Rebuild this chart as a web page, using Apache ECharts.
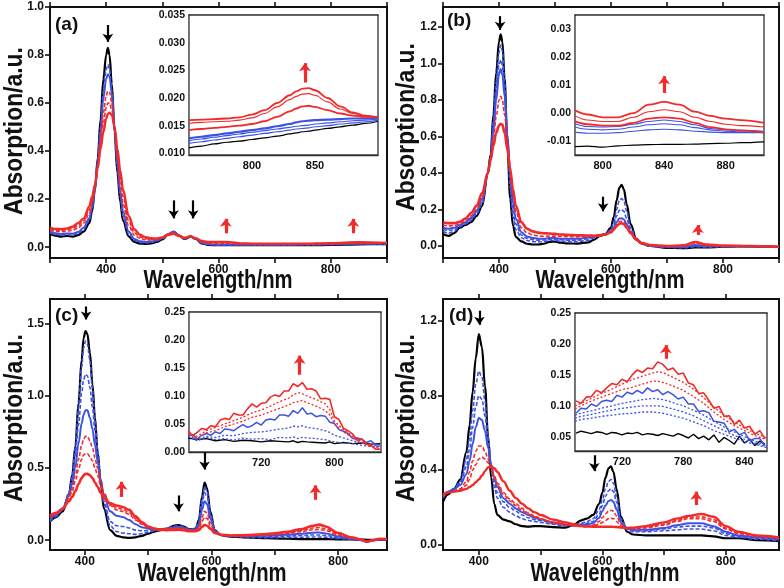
<!DOCTYPE html>
<html><head><meta charset="utf-8">
<script src="https://cdn.jsdelivr.net/npm/echarts@6/dist/echarts.min.js"></script>
<style>html,body{margin:0;padding:0;background:#fff}#c{width:784px;height:588px}</style>
</head><body><div id="c"></div>
<script>
// ---------- Panel (a) ----------
const WA = [300,310,320,330,340,350,360,370,375,380,385,390,395,400,403,406,410,415,420,425,430,440,450,460,470,480,490,500,510,520,530,540,550,560,570,580,600,620,640,660,700,750,800,850,900];
const aBlack = [.055,.048,.044,.047,.044,.05,.065,.10,.15,.24,.37,.53,.70,.80,.83,.80,.68,.48,.31,.19,.11,.045,.022,.015,.014,.016,.022,.032,.052,.064,.048,.034,.044,.034,.016,.01,.008,.008,.008,.008,.008,.008,.01,.012,.013];
const aBlueD = [.06,.053,.05,.052,.05,.057,.075,.11,.16,.24,.36,.50,.65,.74,.76,.74,.65,.49,.33,.21,.13,.055,.028,.02,.018,.02,.026,.035,.053,.064,.048,.035,.044,.034,.017,.011,.009,.009,.009,.009,.009,.01,.011,.013,.014];
const aBlue = [.065,.058,.055,.057,.056,.063,.082,.12,.165,.24,.35,.48,.62,.70,.72,.71,.64,.50,.35,.23,.15,.065,.034,.025,.022,.023,.028,.037,.054,.065,.049,.036,.045,.035,.018,.012,.01,.01,.01,.01,.01,.011,.012,.014,.015];
const aRedD1 = [.072,.066,.064,.067,.07,.08,.10,.14,.18,.25,.34,.45,.56,.63,.65,.645,.60,.50,.37,.26,.18,.09,.05,.037,.031,.03,.032,.039,.054,.062,.047,.037,.045,.035,.021,.016,.016,.016,.013,.012,.012,.013,.014,.017,.016];
const aRedD2 = [.076,.07,.07,.073,.078,.09,.11,.155,.195,.255,.335,.43,.52,.58,.60,.60,.57,.50,.39,.29,.21,.11,.06,.043,.036,.033,.034,.04,.053,.058,.046,.038,.045,.035,.023,.019,.019,.018,.014,.014,.014,.014,.016,.019,.017];
const aRed = [.082,.076,.075,.078,.085,.10,.12,.17,.21,.26,.33,.41,.48,.535,.555,.56,.55,.50,.41,.32,.24,.13,.075,.052,.042,.037,.036,.041,.052,.056,.046,.039,.046,.037,.026,.022,.022,.021,.016,.015,.015,.015,.017,.021,.018];
// inset (a)
const IWA = [750,760,770,780,790,800,810,820,830,835,840,845,850,860,870,880,890,900];
const iaBlack = [.011,.0113,.0117,.0120,.0122,.0125,.0128,.0131,.0135,.0137,.0139,.0140,.0142,.0145,.0148,.0151,.0154,.0158];
const iaBlue1 = [.0118,.0121,.0124,.0127,.0130,.0133,.0136,.0139,.0142,.0144,.0145,.0146,.0148,.0150,.0153,.0155,.0157,.016];
const iaBlue2 = [.0123,.0126,.0129,.0132,.0135,.0138,.0141,.0144,.0147,.0149,.015,.0151,.0153,.0155,.0157,.0159,.016,.0162];
const iaBlue = [.0127,.013,.0133,.0136,.0139,.0142,.0145,.0149,.0153,.0156,.0158,.0159,.016,.0161,.0162,.0163,.0163,.0164];
const iaRed1 = [.0142,.0144,.0146,.0148,.015,.0153,.0158,.0166,.0176,.0181,.0185,.0186,.0184,.0178,.0172,.0168,.0166,.0166];
const iaRed2 = [.0154,.0156,.0157,.0158,.0160,.0164,.0172,.0184,.0197,.0203,.0207,.0208,.0205,.0193,.0180,.0172,.0167,.0165];
const iaRed3 = [.016,.0161,.0162,.0163,.0165,.0170,.0178,.0191,.0205,.0212,.0217,.0218,.0214,.0200,.0185,.0174,.0168,.0165];

// ---------- Panel (b) ----------
const WB = [300,310,320,330,340,350,360,370,380,385,390,395,400,403,406,410,415,420,425,430,440,450,460,470,480,490,500,510,520,540,560,570,580,590,600,605,610,615,619,623,628,635,645,655,670,700,730,750,770,800,850,900];
const bBlack = [.065,.055,.07,.10,.115,.13,.165,.22,.40,.50,.72,.95,1.12,1.16,1.12,.92,.55,.26,.11,.05,.025,.012,.008,.008,.012,.022,.024,.018,.014,.013,.02,.035,.055,.065,.10,.16,.25,.32,.335,.31,.23,.12,.04,.012,0,-.01,-.012,-.008,-.008,-.004,-.002,-.005];
const bBlueD1 = [.08,.07,.08,.105,.12,.14,.175,.23,.40,.49,.69,.90,1.06,1.10,1.07,.90,.58,.32,.16,.09,.045,.03,.024,.022,.024,.03,.03,.026,.024,.024,.032,.045,.058,.065,.09,.13,.20,.25,.26,.245,.19,.10,.04,.014,0,-.008,-.01,-.004,-.006,-.003,-.002,-.005];
const bBlueD2 = [.09,.085,.09,.11,.125,.15,.185,.245,.40,.48,.66,.85,.99,1.02,.99,.85,.60,.37,.21,.12,.06,.042,.035,.032,.033,.037,.037,.034,.032,.032,.04,.05,.06,.066,.085,.115,.165,.195,.20,.19,.15,.085,.036,.014,0,-.006,-.008,0,-.004,-.002,-.002,-.005];
const bBlue = [.10,.095,.10,.115,.13,.155,.19,.26,.40,.47,.63,.80,.94,.97,.94,.82,.61,.40,.24,.15,.075,.052,.044,.04,.04,.043,.043,.04,.04,.04,.046,.053,.06,.065,.08,.10,.13,.15,.152,.145,.12,.075,.033,.013,0,-.005,-.006,.005,-.002,-.002,-.002,-.005];
const bRedD = [.115,.11,.112,.122,.14,.165,.20,.27,.40,.47,.58,.71,.80,.82,.80,.72,.58,.43,.29,.19,.10,.072,.06,.055,.053,.054,.054,.052,.052,.05,.052,.055,.058,.063,.078,.095,.118,.132,.135,.13,.11,.072,.034,.014,.003,-.002,0,.015,.003,0,-.001,-.005];
const bRed = [.13,.125,.125,.132,.15,.18,.22,.29,.40,.47,.55,.62,.66,.67,.665,.62,.53,.42,.31,.22,.13,.095,.08,.073,.07,.068,.066,.063,.061,.059,.057,.056,.057,.062,.075,.09,.11,.122,.125,.12,.10,.07,.036,.016,.005,0,.003,.022,.008,.002,0,-.004];
// inset (b)
const IWB = [782,790,800,810,820,830,840,850,860,870,880,890,905];
const ibBlack = [-.012,-.0118,-.0122,-.0117,-.0115,-.0113,-.0112,-.0112,-.0111,-.0109,-.0108,-.0106,-.0103];
const ibBlue3 = [-.0068,-.0072,-.0072,-.007,-.0065,-.006,-.0058,-.006,-.0065,-.0068,-.007,-.007,-.007];
const ibBlue2 = [-.005,-.0058,-.006,-.0058,-.005,-.0042,-.0038,-.0042,-.0052,-.006,-.0065,-.0067,-.0068];
const ibBlue1 = [-.0038,-.0048,-.005,-.0048,-.004,-.003,-.0025,-.003,-.0042,-.0055,-.006,-.0062,-.0065];
const ibRed1 = [-.003,-.004,-.0045,-.0045,-.0035,-.002,-.0015,-.002,-.0035,-.005,-.0058,-.0062,-.007];
const ibRed2 = [-.001,-.0025,-.003,-.003,-.0015,.0005,.0012,.0005,-.0015,-.003,-.004,-.0045,-.005];
const ibRed3 = [.001,-.0005,-.0015,-.0015,0,.003,.004,.003,.0005,-.001,-.002,-.0025,-.0035];

// ---------- Panel (c) ----------
const WC = [345,355,365,375,380,385,390,395,398,401,404,408,412,416,420,425,430,440,450,460,470,480,490,500,510,520,530,540,548,556,565,575,580,585,589,593,598,605,615,630,650,680,700,720,740,760,770,780,800,820,835,845,855,865,877];
const cBlack = [.13,.16,.20,.32,.45,.65,.95,1.25,1.40,1.45,1.43,1.30,1.08,.85,.62,.40,.22,.07,.03,.02,.016,.02,.03,.045,.06,.07,.08,.10,.105,.095,.075,.08,.14,.30,.40,.36,.20,.07,.035,.025,.02,.015,.012,.01,.008,.008,.008,.008,.006,.005,.004,.003,.003,.003,.003];
const cBlueD1 = [.13,.165,.21,.33,.45,.64,.92,1.20,1.33,1.38,1.36,1.25,1.05,.84,.63,.42,.25,.10,.06,.05,.045,.04,.045,.055,.065,.072,.08,.096,.10,.092,.074,.08,.13,.28,.37,.34,.19,.07,.035,.026,.022,.018,.018,.019,.02,.022,.022,.02,.012,.006,0,-.01,0,.005,.005];
const cBlueD2 = [.14,.17,.215,.32,.42,.58,.80,1.02,1.11,1.15,1.14,1.06,.92,.76,.60,.42,.27,.13,.10,.095,.085,.07,.065,.066,.07,.074,.08,.092,.096,.088,.072,.077,.12,.25,.33,.30,.17,.066,.036,.028,.025,.024,.025,.028,.032,.036,.036,.032,.018,.008,0,-.012,-.002,.005,.005];
const cBlue = [.15,.175,.22,.31,.39,.51,.67,.81,.87,.90,.90,.85,.77,.66,.55,.42,.31,.20,.17,.16,.14,.11,.09,.08,.076,.077,.08,.088,.09,.084,.07,.074,.105,.21,.27,.25,.15,.063,.037,.03,.028,.03,.033,.038,.045,.052,.053,.047,.026,.012,.002,-.012,-.003,.006,.005];
const cRedD1 = [.16,.18,.22,.30,.36,.45,.56,.66,.70,.72,.72,.69,.64,.57,.50,.41,.33,.24,.21,.20,.18,.14,.11,.09,.08,.078,.078,.083,.084,.079,.068,.07,.09,.16,.20,.19,.12,.058,.037,.031,.031,.035,.04,.048,.058,.072,.074,.066,.036,.015,.004,-.01,-.002,.007,.006];
const cRedD2 = [.165,.185,.22,.29,.34,.41,.49,.56,.59,.60,.60,.58,.55,.50,.45,.38,.32,.25,.225,.215,.19,.15,.115,.092,.08,.076,.075,.078,.079,.075,.066,.067,.08,.13,.16,.15,.10,.055,.037,.032,.032,.037,.044,.053,.066,.085,.088,.078,.042,.017,.005,-.01,-.001,.008,.007];
const cRed = [.17,.19,.22,.27,.30,.34,.39,.43,.45,.46,.46,.45,.43,.40,.37,.33,.29,.255,.24,.23,.21,.165,.125,.095,.08,.073,.07,.071,.072,.069,.062,.063,.07,.092,.105,.10,.08,.05,.037,.033,.034,.04,.048,.058,.075,.10,.108,.095,.05,.02,.006,-.008,0,.01,.008];
// inset (c)
const IWC = [640,650,660,670,680,690,700,710,720,730,740,750,755,760,765,770,780,790,795,800,810,820,830,840,850];
const IWC5 = [640,645,650,655,660,665,670,675,680,685,690,695,700,705,710,715,720,725,730,735,740,745,750,755,760,765,770,775,780,785,790,795,800,805,810,815,820,825,830,835,840,845,850];
const icBlack = [.025,.022,.024,.02,.022,.019,.021,.02,.018,.02,.019,.018,.02,.017,.019,.018,.017,.016,.018,.015,.017,.015,.016,.014,.015];
const icBlueD1 = [.028,.02,.026,.022,.024,.021,.025,.023,.024,.022,.026,.025,.027,.024,.026,.025,.024,.022,.02,.018,.016,.015,.012,.01,.01];
const icBlueD2 = [.03,.022,.028,.026,.03,.029,.033,.035,.036,.038,.041,.043,.046,.045,.047,.044,.042,.038,.035,.03,.025,.02,.016,.012,.01];
const icBlue = [.028,.031,.023,.030,.033,.030,.036,.033,.041,.040,.038,.044,.049,.044,.047,.053,.048,.057,.059,.057,.066,.066,.064,.074,.069,.079,.068,.069,.063,.065,.064,.053,.051,.040,.037,.033,.024,.025,.023,.017,.020,.013,.013];
const icRedD1 = [.032,.025,.034,.038,.045,.05,.055,.062,.066,.072,.078,.084,.088,.09,.092,.088,.082,.074,.066,.05,.036,.025,.016,.01,.008];
const icRedD2 = [.033,.028,.038,.044,.05,.056,.062,.07,.075,.082,.09,.096,.102,.106,.104,.10,.094,.086,.076,.055,.04,.028,.018,.01,.006];
const icRed = [.038,.029,.035,.042,.040,.047,.045,.057,.060,.058,.069,.066,.066,.077,.086,.080,.087,.088,.098,.102,.099,.109,.109,.122,.117,.124,.112,.113,.109,.095,.096,.094,.063,.058,.042,.038,.032,.021,.023,.014,.012,.005,.005];

// ---------- Panel (d) ----------
const WD = [342,350,360,370,380,385,390,395,400,405,410,415,420,425,430,440,450,460,470,480,490,500,520,540,555,565,575,585,595,600,605,610,614,618,623,630,640,650,670,700,720,740,760,780,800,820,850,886];
const dBlack = [.23,.27,.30,.35,.50,.64,.82,1.0,1.13,1.06,.85,.58,.36,.22,.16,.135,.125,.11,.10,.097,.10,.10,.095,.092,.11,.13,.14,.16,.22,.28,.36,.41,.42,.39,.30,.15,.07,.055,.05,.05,.05,.05,.05,.045,.035,.035,.025,.02];
const dBlueD1 = [.25,.28,.30,.34,.46,.57,.72,.86,.93,.90,.77,.58,.42,.31,.25,.20,.175,.155,.14,.13,.125,.12,.11,.10,.105,.115,.125,.14,.19,.24,.30,.34,.35,.33,.26,.14,.08,.07,.07,.075,.08,.085,.085,.075,.05,.04,.03,.02];
const dBlueD2 = [.26,.285,.30,.33,.42,.51,.63,.74,.80,.78,.69,.55,.43,.34,.28,.23,.20,.18,.16,.145,.135,.13,.115,.105,.105,.11,.115,.125,.165,.21,.26,.29,.30,.285,.23,.13,.085,.075,.075,.085,.095,.10,.10,.09,.06,.045,.035,.025];
const dBlue = [.26,.285,.30,.32,.38,.45,.54,.63,.68,.67,.61,.52,.43,.36,.31,.25,.22,.195,.175,.16,.145,.135,.12,.108,.103,.105,.11,.115,.145,.18,.21,.235,.24,.23,.19,.12,.09,.08,.08,.09,.105,.115,.115,.10,.07,.05,.04,.03];
const dRedD1 = [.26,.28,.29,.30,.34,.39,.45,.50,.53,.53,.50,.46,.41,.36,.32,.27,.235,.21,.185,.165,.15,.138,.12,.11,.102,.10,.10,.105,.125,.145,.165,.18,.185,.18,.155,.11,.09,.085,.09,.105,.125,.14,.14,.125,.085,.06,.045,.035];
const dRedD2 = [.26,.28,.29,.295,.32,.35,.40,.43,.46,.47,.46,.44,.41,.37,.33,.28,.245,.22,.195,.17,.155,.14,.12,.108,.10,.098,.097,.10,.11,.12,.13,.14,.142,.14,.125,.10,.09,.088,.095,.11,.13,.148,.15,.135,.09,.065,.048,.037];
const dRed = [.27,.28,.285,.29,.30,.31,.32,.335,.35,.37,.395,.415,.42,.41,.39,.34,.29,.25,.22,.195,.175,.16,.135,.12,.11,.10,.098,.097,.097,.097,.097,.097,.097,.096,.095,.093,.09,.092,.10,.12,.14,.155,.165,.15,.10,.07,.05,.04];
// inset (d)
const IWD = [674,680,690,700,710,720,730,740,750,755,760,765,770,780,790,800,810,820,830,840,850,862];
const IWD5 = [675,680,685,690,695,700,705,710,715,720,725,730,735,740,745,750,755,760,765,770,775,780,785,790,795,800,805,810,815,820,825,830,835,840,845,850,855,860];
const idBlack = [.056,.059,.057,.055,.058,.057,.054,.057,.056,.053,.056,.055,.057,.053,.055,.054,.052,.055,.053,.051,.055,.052,.048,.054,.047,.051,.045,.053,.041,.049,.044,.038,.051,.04,.046,.036,.043,.038];
const idBlueD1 = [.075,.078,.08,.083,.085,.087,.088,.09,.09,.089,.088,.086,.084,.08,.074,.068,.06,.054,.048,.042,.038,.032];
const idBlueD2 = [.08,.083,.086,.09,.093,.096,.098,.10,.10,.10,.099,.097,.095,.09,.084,.076,.068,.06,.052,.046,.04,.034];
const idBlueD3 = [.085,.088,.092,.096,.10,.104,.107,.11,.112,.111,.11,.108,.105,.10,.093,.085,.075,.066,.058,.05,.043,.036];
const idBlue = [.088,.096,.095,.103,.099,.107,.109,.107,.117,.114,.122,.119,.125,.120,.129,.123,.126,.118,.123,.118,.111,.114,.103,.103,.091,.092,.089,.075,.074,.072,.058,.062,.053,.057,.044,.047,.047,.035];
const idRedD1 = [.095,.10,.108,.114,.12,.126,.13,.135,.14,.14,.138,.135,.132,.125,.115,.104,.09,.078,.068,.06,.052,.045];
const idRedD2 = [.10,.104,.112,.12,.127,.135,.142,.148,.153,.155,.154,.15,.146,.138,.127,.113,.098,.085,.074,.064,.056,.048];
const idRed = [.108,.104,.114,.115,.125,.121,.129,.136,.134,.143,.139,.150,.158,.154,.161,.160,.171,.167,.158,.161,.151,.153,.137,.134,.120,.121,.109,.096,.099,.083,.084,.070,.077,.064,.067,.054,.060,.047];

// ---------- Tick labels ----------
const mainXLabels = [400,600,800];
const abXTicks = [300,400,500,600,700,800,900];
const cdXTicks = [400,500,600,700,800];
const aYLabels = [0,0.2,0.4,0.6,0.8,1.0];
const bYLabels = [0,0.2,0.4,0.6,0.8,1.0,1.2];
const cYLabels = [0,0.5,1.0,1.5];
const dYLabels = [0,0.4,0.8,1.2];
const iaXLabels = [800,850], iaXTicks = [775,800,825,850,875];
const iaYLabels = [0.010,0.015,0.020,0.025,0.030,0.035];
const ibXLabels = [800,840,880], ibXTicks = [800,820,840,860,880,900];
const ibYLabels = [-0.01,0,0.01,0.02,0.03];
const icXLabels = [720,800], icXTicks = [680,720,760,800,840];
const icYLabels = [0,0.05,0.10,0.15,0.20,0.25];
const idXLabels = [720,780,840], idXTicks = [690,720,750,780,810,840];
const idYLabels = [0.05,0.10,0.15,0.20,0.25];

// ---------- Arrows [x, yStart, yEnd, colour] ----------
const arrowsA = [[403,.925,.855,'k'],[520,.195,.12,'k'],[555,.195,.12,'k'],[613,.058,.118,'r'],[840,.058,.118,'r']];
const arrowsIA = [[842,.0228,.0263,'r']];
const arrowsB = [[402,1.26,1.185,'k'],[586,.27,.19,'k'],[755,.06,.115,'r']];
const arrowsIB = [[840,.0072,.0132,'r']];
const arrowsC = [[402,1.62,1.53,'k'],[458,.30,.405,'r'],[548,.31,.2,'k'],[589,.61,.49,'k'],[764,.28,.38,'r']];
const arrowsIC = [[762,.138,.172,'r']];
const arrowsD = [[401,1.255,1.18,'k'],[587,.48,.395,'k'],[752,.213,.285,'r']];
const arrowsID = [[763,.176,.198,'r']];

// ---------- build ----------
const BLK = '#000', BLU = '#3c52e4', RED = '#f22a2a';
const FONT = '"Liberation Sans", Arial, sans-serif';
const grids = [
  {left:50, top:7, width:337, height:251},
  {left:443, top:7, width:336, height:251},
  {left:50, top:299, width:337, height:251},
  {left:443, top:299, width:336, height:251},
  {left:189, top:15, width:189, height:140},
  {left:575, top:15, width:189, height:140},
  {left:189, top:312, width:192, height:140},
  {left:575, top:313, width:192, height:138}
].map((g,i)=>Object.assign(g,{show:true, containLabel:false, outerBoundsMode:'none',
   backgroundColor:'#fff', borderColor: i<4?'#111':'#333', borderWidth: i<4?2:1.3, z: i<4?0:5}));

const xSpec = [
  [300,900,abXTicks,mainXLabels],[300,900,abXTicks,mainXLabels],
  [345,877,cdXTicks,mainXLabels],[342,886,cdXTicks,mainXLabels],
  [750,900,iaXTicks,iaXLabels],[782,905,ibXTicks,ibXLabels],
  [641,851,icXTicks,icXLabels],[674,862,idXTicks,idXLabels]];
const ySpec = [
  [-0.045,1.0,aYLabels,1],[-0.066,1.31,bYLabels,1],[-0.068,1.672,cYLabels,1],[-0.028,1.318,dYLabels,1],
  [0.0097,0.035,iaYLabels,3],[-0.015,0.0351,ibYLabels,2],[0,0.25,icYLabels,2],[0.027,0.25,idYLabels,2]];

const xAxis = [], yAxis = [];
function axLine(main){ return {show:true, onZero:false, lineStyle:{color: main?'#111':'#333', width: main?2:1.3}}; }
function axTick(main, vals){ return {show:true, customValues:vals, inside:!main, length: main?5:3, lineStyle:{color:'#111', width: main?1.6:1}}; }
xSpec.forEach((s,g)=>{
  const main = g<4;
  xAxis.push({type:'value', gridIndex:g, min:s[0], max:s[1], position:'bottom', splitLine:{show:false},
    axisLine:axLine(main), axisTick:axTick(main,s[2]),
    axisLabel:{customValues:s[3], formatter:v=>String(Math.round(v)), color:'#111', fontFamily:FONT, fontWeight:'bold',
      fontSize: main?12:11, margin: main?6:5}});
});
xSpec.forEach((s,g)=>{
  const main = g<4;
  xAxis.push({type:'value', gridIndex:g, min:s[0], max:s[1], position:'top', splitLine:{show:false},
    axisLine:axLine(main), axisTick:axTick(main,s[2]), axisLabel:{show:false}});
});
ySpec.forEach((s,g)=>{
  const main = g<4;
  yAxis.push({type:'value', gridIndex:g, min:s[0], max:s[1], splitLine:{show:false},
    axisLine:axLine(main), axisTick:axTick(main,s[2]),
    axisLabel:{customValues:s[2], formatter:v=>v.toFixed(s[3]), color:'#111', fontFamily:FONT, fontWeight:'bold',
      fontSize: main?12:10.5, margin: main?6:4}});
});

function line(g, xs, ys, color, width, type, smooth){
  return {type:'line', xAxisIndex:g, yAxisIndex:g, data: xs.map((x,i)=>[x,ys[i]]),
    symbol:'none', showSymbol:false, smooth: smooth===undefined?0.35:smooth, smoothMonotone:'x',
    lineStyle:{color, width, type}, silent:true, animation:false, z: g<4?2:7};
}
function arrows(g, arr){
  return {type:'line', xAxisIndex:g, yAxisIndex:g, data:[], symbol:'none', silent:true, animation:false, z:9,
    markLine:{silent:true, animation:false, symbol:['none','arrow'], label:{show:false},
      data: arr.map(a=>{
        const red = a[3]==='r';
        const st = {color: red?RED:BLK, width: red?3.2:2.2, type:'solid'};
        return [{coord:[a[0],a[1]], lineStyle:st, symbol:'none'},
                {coord:[a[0],a[2]], lineStyle:st, symbol:'arrow', symbolSize: red?[9,8]:[8,8]}];
      })}};
}
const DASH = [4,2], DOT = [2,2];
const series = [
  line(0,WA,aBlack,BLK,2.2,'solid'), line(0,WA,aBlueD,BLU,1.6,DASH), line(0,WA,aBlue,BLU,2,'solid'),
  line(0,WA,aRedD1,RED,1.6,DASH), line(0,WA,aRedD2,RED,1.6,DASH), line(0,WA,aRed,RED,2.4,'solid'),
  line(1,WB,bBlack,BLK,2.2,'solid'), line(1,WB,bBlueD1,BLU,1.6,DASH), line(1,WB,bBlueD2,BLU,1.6,DASH),
  line(1,WB,bBlue,BLU,2,'solid'), line(1,WB,bRedD,RED,1.6,DASH), line(1,WB,bRed,RED,2.6,'solid'),
  line(2,WC,cBlack,BLK,2.2,'solid'), line(2,WC,cBlueD1,BLU,1.6,DASH), line(2,WC,cBlueD2,BLU,1.6,DASH),
  line(2,WC,cBlue,BLU,2,'solid'), line(2,WC,cRedD1,RED,1.6,DASH), line(2,WC,cRedD2,RED,1.6,DASH),
  line(2,WC,cRed,RED,2.6,'solid'),
  line(3,WD,dBlack,BLK,2.2,'solid'), line(3,WD,dBlueD1,BLU,1.6,DASH), line(3,WD,dBlueD2,BLU,1.6,DASH),
  line(3,WD,dBlue,BLU,2,'solid'), line(3,WD,dRedD1,RED,1.6,DASH), line(3,WD,dRedD2,RED,1.6,DASH),
  line(3,WD,dRed,RED,2.4,'solid'),
  line(4,IWA,iaBlack,BLK,1.2,'solid'), line(4,IWA,iaBlue1,BLU,1.1,'solid'), line(4,IWA,iaBlue2,BLU,1.1,'solid'),
  line(4,IWA,iaBlue,BLU,2.2,'solid'), line(4,IWA,iaRed1,RED,1.8,'solid'), line(4,IWA,iaRed2,RED,1.1,'solid'),
  line(4,IWA,iaRed3,RED,1.8,'solid'),
  line(5,IWB,ibBlack,BLK,1.2,'solid'), line(5,IWB,ibBlue3,BLU,1.1,'solid'), line(5,IWB,ibBlue2,BLU,1.1,'solid'),
  line(5,IWB,ibBlue1,BLU,1.1,'solid'), line(5,IWB,ibRed1,RED,1.8,'solid'), line(5,IWB,ibRed2,RED,1.1,'solid'),
  line(5,IWB,ibRed3,RED,1.8,'solid'),
  line(6,IWC,icBlack,BLK,1.4,'solid',false), line(6,IWC,icBlueD1,BLU,1.3,DOT,false), line(6,IWC,icBlueD2,BLU,1.3,DOT,false),
  line(6,IWC5,icBlue,BLU,1.5,'solid',false), line(6,IWC,icRedD1,RED,1.3,DOT,false), line(6,IWC,icRedD2,RED,1.3,DOT,false),
  line(6,IWC5,icRed,RED,1.6,'solid',false),
  line(7,IWD5,idBlack,BLK,1.4,'solid',false), line(7,IWD,idBlueD1,BLU,1.3,DOT,false), line(7,IWD,idBlueD2,BLU,1.3,DOT,false),
  line(7,IWD,idBlueD3,BLU,1.3,DOT,false), line(7,IWD5,idBlue,BLU,1.5,'solid',false), line(7,IWD,idRedD1,RED,1.3,DOT,false),
  line(7,IWD,idRedD2,RED,1.3,DOT,false), line(7,IWD5,idRed,RED,1.6,'solid',false),
  arrows(0,arrowsA), arrows(1,arrowsB), arrows(2,arrowsC), arrows(3,arrowsD),
  arrows(4,arrowsIA), arrows(5,arrowsIB), arrows(6,arrowsIC), arrows(7,arrowsID)
];

function ttl(text, x, y, rot, sx){
  return {type:'text', x, y, rotation: rot, scaleX: sx, scaleY: 1, z: 20,
    style:{text, fill:'#111', font:'bold 26px ' + FONT, align:'center', verticalAlign:'middle'}};
}
function plab(text, x, y){
  return {type:'text', x, y, z:20, style:{text, fill:'#111', font:'bold 19px ' + FONT, align:'left', verticalAlign:'middle'}};
}
const graphic = [
  ttl('Wavelength/nm',218,281,0,0.78), ttl('Wavelength/nm',610,281,0,0.78),
  ttl('Wavelength/nm',212,574,0,0.78), ttl('Wavelength/nm',605,574,0,0.78),
  ttl('Absorption/a.u.',15,131,Math.PI/2,0.88), ttl('Absorption/a.u.',407,127,Math.PI/2,0.88),
  ttl('Absorption/a.u.',15,418,Math.PI/2,0.88), ttl('Absorption/a.u.',407,418,Math.PI/2,0.88),
  plab('(a)',55,25), plab('(b)',447,21), plab('(c)',55,316), plab('(d)',449,316)
];

const chart = echarts.init(document.getElementById('c'), null, {renderer:'canvas'});
chart.setOption({animation:false, backgroundColor:'#fff', textStyle:{fontFamily:FONT},
  grid: grids, xAxis, yAxis, series, graphic});
</script></body></html>
